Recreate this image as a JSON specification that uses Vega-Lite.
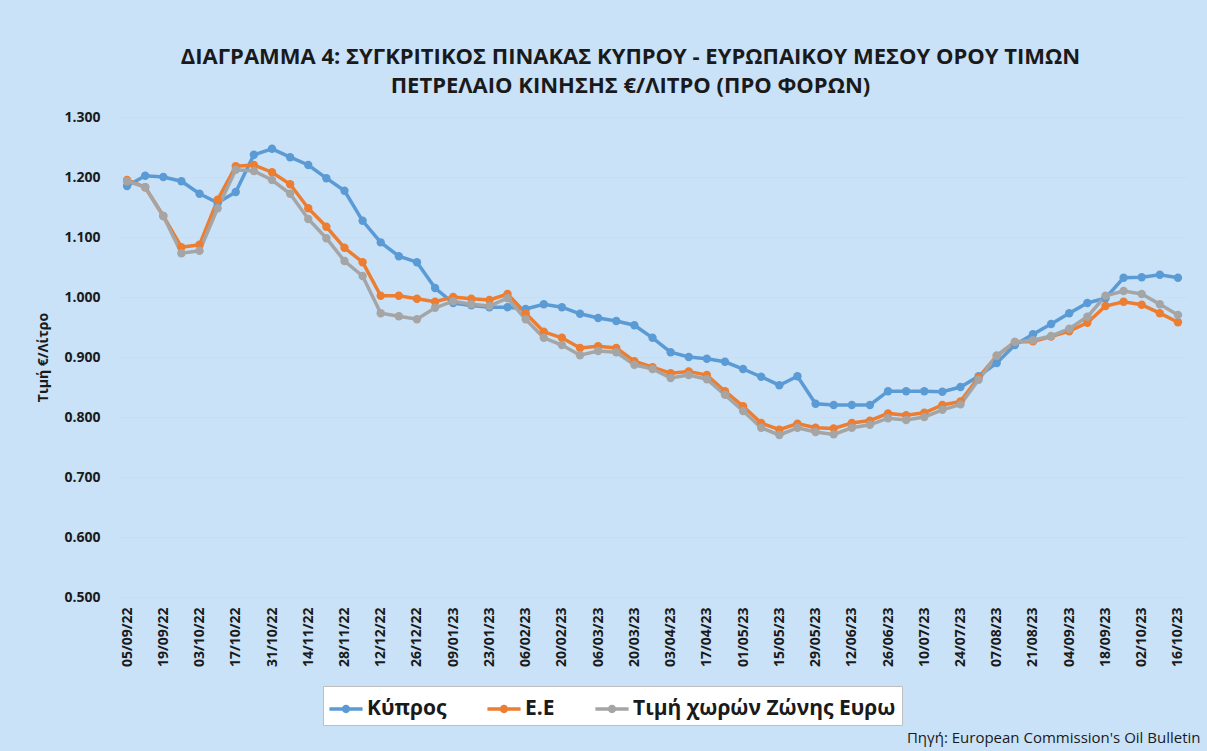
{
  "$schema": "https://vega.github.io/schema/vega-lite/v6.json",
  "width": 1069,
  "height": 480,
  "autosize": {"type": "none"},
  "padding": {"left": 118, "top": 117, "right": 20, "bottom": 154},
  "background": "#c9e2f8",
  "config": {"view": {"stroke": null}, "font": "Open Sans"},
  "title": {
    "text": ["ΔΙΑΓΡΑΜΜΑ 4: ΣΥΓΚΡΙΤΙΚΟΣ ΠΙΝΑΚΑΣ ΚΥΠΡΟΥ - ΕΥΡΩΠΑΙΚΟΥ ΜΕΣΟΥ ΟΡΟΥ ΤΙΜΩΝ", "ΠΕΤΡΕΛΑΙΟ ΚΙΝΗΣΗΣ €/ΛΙΤΡΟ (ΠΡΟ ΦΟΡΩΝ)"],
    "fontSize": 22,
    "fontWeight": "bold",
    "color": "#1a1a1a",
    "lineHeight": 29,
    "offset": 12,
    "anchor": "middle",
    "dx": -22
  },
  "data": {
    "values": [
      {"d": "05/09/22", "cy": 1.185, "eu": 1.195, "ez": 1.193},
      {"d": "12/09/22", "cy": 1.202, "eu": 1.183, "ez": 1.183},
      {"d": "19/09/22", "cy": 1.200, "eu": 1.135, "ez": 1.135},
      {"d": "26/09/22", "cy": 1.193, "eu": 1.083, "ez": 1.073},
      {"d": "03/10/22", "cy": 1.172, "eu": 1.087, "ez": 1.077},
      {"d": "10/10/22", "cy": 1.157, "eu": 1.162, "ez": 1.148},
      {"d": "17/10/22", "cy": 1.175, "eu": 1.218, "ez": 1.212},
      {"d": "24/10/22", "cy": 1.237, "eu": 1.220, "ez": 1.210},
      {"d": "31/10/22", "cy": 1.247, "eu": 1.208, "ez": 1.195},
      {"d": "07/11/22", "cy": 1.233, "eu": 1.188, "ez": 1.172},
      {"d": "14/11/22", "cy": 1.220, "eu": 1.148, "ez": 1.130},
      {"d": "21/11/22", "cy": 1.198, "eu": 1.117, "ez": 1.098},
      {"d": "28/11/22", "cy": 1.177, "eu": 1.082, "ez": 1.060},
      {"d": "05/12/22", "cy": 1.127, "eu": 1.058, "ez": 1.035},
      {"d": "12/12/22", "cy": 1.091, "eu": 1.002, "ez": 0.973},
      {"d": "19/12/22", "cy": 1.068, "eu": 1.002, "ez": 0.968},
      {"d": "26/12/22", "cy": 1.058, "eu": 0.997, "ez": 0.963},
      {"d": "02/01/23", "cy": 1.015, "eu": 0.992, "ez": 0.982},
      {"d": "09/01/23", "cy": 0.990, "eu": 1.000, "ez": 0.993},
      {"d": "16/01/23", "cy": 0.986, "eu": 0.997, "ez": 0.988},
      {"d": "23/01/23", "cy": 0.983, "eu": 0.995, "ez": 0.985},
      {"d": "30/01/23", "cy": 0.983, "eu": 1.005, "ez": 0.998},
      {"d": "06/02/23", "cy": 0.980, "eu": 0.973, "ez": 0.963},
      {"d": "13/02/23", "cy": 0.988, "eu": 0.942, "ez": 0.932},
      {"d": "20/02/23", "cy": 0.983, "eu": 0.932, "ez": 0.920},
      {"d": "27/02/23", "cy": 0.972, "eu": 0.915, "ez": 0.903},
      {"d": "06/03/23", "cy": 0.965, "eu": 0.918, "ez": 0.910},
      {"d": "13/03/23", "cy": 0.960, "eu": 0.915, "ez": 0.908},
      {"d": "20/03/23", "cy": 0.953, "eu": 0.893, "ez": 0.887},
      {"d": "27/03/23", "cy": 0.932, "eu": 0.883, "ez": 0.880},
      {"d": "03/04/23", "cy": 0.908, "eu": 0.873, "ez": 0.865},
      {"d": "10/04/23", "cy": 0.900, "eu": 0.876, "ez": 0.870},
      {"d": "17/04/23", "cy": 0.897, "eu": 0.870, "ez": 0.863},
      {"d": "24/04/23", "cy": 0.892, "eu": 0.843, "ez": 0.837},
      {"d": "01/05/23", "cy": 0.880, "eu": 0.818, "ez": 0.810},
      {"d": "08/05/23", "cy": 0.867, "eu": 0.790, "ez": 0.782},
      {"d": "15/05/23", "cy": 0.853, "eu": 0.779, "ez": 0.770},
      {"d": "22/05/23", "cy": 0.868, "eu": 0.789, "ez": 0.782},
      {"d": "29/05/23", "cy": 0.822, "eu": 0.782, "ez": 0.775},
      {"d": "05/06/23", "cy": 0.820, "eu": 0.781, "ez": 0.771},
      {"d": "12/06/23", "cy": 0.820, "eu": 0.790, "ez": 0.782},
      {"d": "19/06/23", "cy": 0.820, "eu": 0.794, "ez": 0.787},
      {"d": "26/06/23", "cy": 0.843, "eu": 0.806, "ez": 0.798},
      {"d": "03/07/23", "cy": 0.843, "eu": 0.803, "ez": 0.795},
      {"d": "10/07/23", "cy": 0.843, "eu": 0.807, "ez": 0.800},
      {"d": "17/07/23", "cy": 0.842, "eu": 0.820, "ez": 0.812},
      {"d": "24/07/23", "cy": 0.850, "eu": 0.826, "ez": 0.821},
      {"d": "31/07/23", "cy": 0.868, "eu": 0.866, "ez": 0.862},
      {"d": "07/08/23", "cy": 0.890, "eu": 0.902, "ez": 0.902},
      {"d": "14/08/23", "cy": 0.920, "eu": 0.925, "ez": 0.925},
      {"d": "21/08/23", "cy": 0.938, "eu": 0.926, "ez": 0.928},
      {"d": "28/08/23", "cy": 0.955, "eu": 0.934, "ez": 0.935},
      {"d": "04/09/23", "cy": 0.973, "eu": 0.943, "ez": 0.947},
      {"d": "11/09/23", "cy": 0.990, "eu": 0.957, "ez": 0.967},
      {"d": "18/09/23", "cy": 0.998, "eu": 0.985, "ez": 1.002},
      {"d": "25/09/23", "cy": 1.032, "eu": 0.992, "ez": 1.010},
      {"d": "02/10/23", "cy": 1.033, "eu": 0.987, "ez": 1.005},
      {"d": "09/10/23", "cy": 1.037, "eu": 0.973, "ez": 0.988},
      {"d": "16/10/23", "cy": 1.032, "eu": 0.958, "ez": 0.970}
    ]
  },
  "transform": [{"fold": ["cy", "eu", "ez"], "as": ["s", "v"]}],
  "mark": {"type": "line", "strokeWidth": 3.5, "point": {"filled": true, "size": 70, "opacity": 1}},
  "encoding": {
    "x": {
      "field": "d",
      "type": "ordinal",
      "sort": null,
      "scale": {"type": "point", "padding": 0.5},
      "axis": {
        "values": ["05/09/22", "19/09/22", "03/10/22", "17/10/22", "31/10/22", "14/11/22", "28/11/22", "12/12/22", "26/12/22", "09/01/23", "23/01/23", "06/02/23", "20/02/23", "06/03/23", "20/03/23", "03/04/23", "17/04/23", "01/05/23", "15/05/23", "29/05/23", "12/06/23", "26/06/23", "10/07/23", "24/07/23", "07/08/23", "21/08/23", "04/09/23", "18/09/23", "02/10/23", "16/10/23"],
        "labelAngle": -90,
        "labelFontSize": 14,
        "labelFontWeight": "bold",
        "labelColor": "#1a1a1a",
        "labelPadding": 10,
        "ticks": false,
        "domain": false,
        "grid": false,
        "title": "Πηγή: European Commission's Oil Bulletin",
        "titleFontSize": 15,
        "titleFontWeight": "normal",
        "titleColor": "#1a1a1a",
        "titleAnchor": "end",
        "titleAlign": "right",
        "titleBaseline": "middle",
        "titleX": 1082,
        "titleY": 140
      }
    },
    "y": {
      "field": "v",
      "type": "quantitative",
      "scale": {"domain": [0.5, 1.3]},
      "axis": {
        "values": [0.5, 0.6, 0.7, 0.8, 0.9, 1.0, 1.1, 1.2, 1.3],
        "format": ".3f",
        "labelFontSize": 14,
        "labelFontWeight": "bold",
        "labelColor": "#1a1a1a",
        "labelPadding": 18,
        "ticks": false,
        "domain": false,
        "gridColor": "#d9d9d9",
        "gridWidth": 1.2,
        "title": "Τιμή €/Λίτρο",
        "titleFontSize": 14,
        "titleFontWeight": "bold",
        "titleColor": "#1a1a1a",
        "titlePadding": 13
      }
    },
    "color": {
      "field": "s",
      "type": "nominal",
      "scale": {"domain": ["cy", "eu", "ez"], "range": ["#5b9bd5", "#ed7d31", "#a5a5a5"]},
      "legend": {
        "title": null,
        "orient": "none",
        "legendX": 205,
        "legendY": 569,
        "direction": "horizontal",
        "fillColor": "#ffffff",
        "strokeColor": "#bfbfbf",
        "padding": 6,
        "columnPadding": 40,
        "labelFontSize": 21,
        "labelFontWeight": "bold",
        "labelColor": "#1a1a1a",
        "labelLimit": 400,
        "labelExpr": "datum.label == 'cy' ? 'Κύπρος' : datum.label == 'eu' ? 'Ε.Ε' : 'Τιμή χωρών Ζώνης Ευρω'",
        "symbolType": "M-1,-0.1H1V0.1H-1Z M0.25,0A0.25,0.25,0,1,1,-0.25,0A0.25,0.25,0,1,1,0.25,0Z",
        "symbolSize": 1100,
        "symbolStrokeWidth": 0,
        "labelOffset": 4,
        "encode": {
          "symbols": {"update": {"fill": {"scale": "color", "field": "value"}, "stroke": {"scale": "color", "field": "value"}, "opacity": {"value": 1}}}
        }
      }
    }
  }
}
